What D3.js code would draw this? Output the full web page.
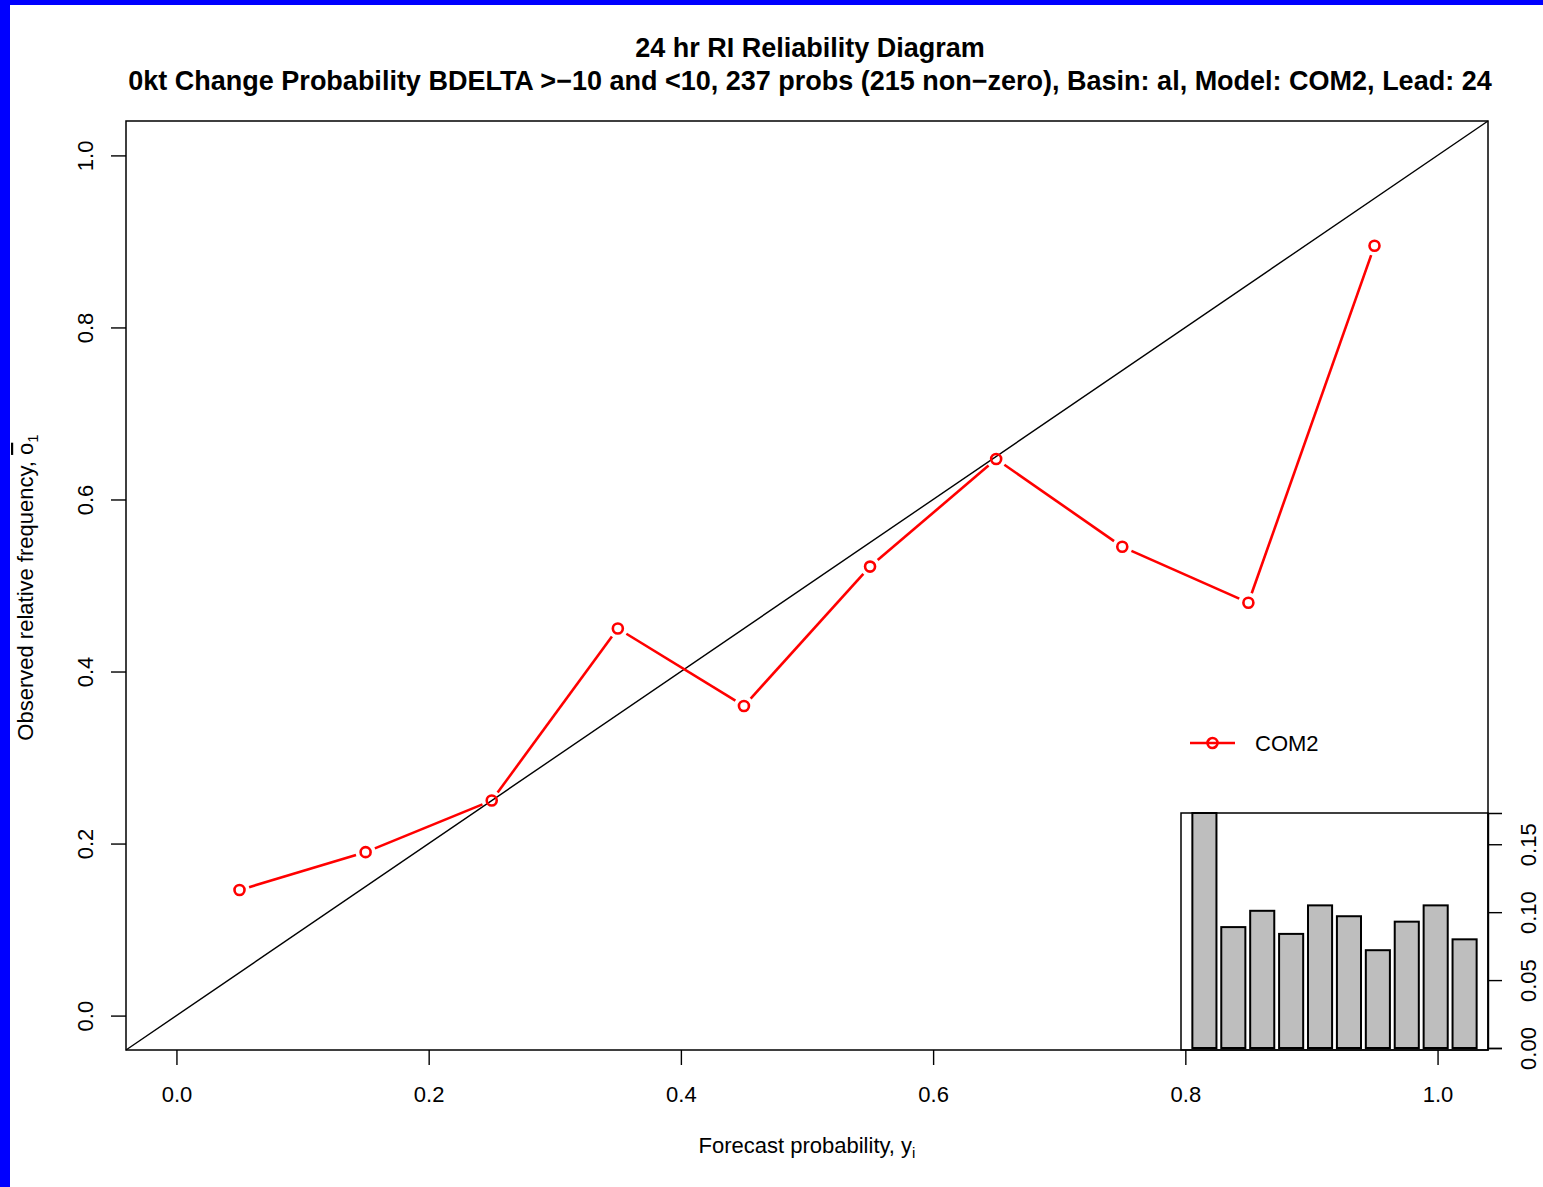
<!DOCTYPE html>
<html>
<head>
<meta charset="utf-8">
<script src="https://cdn.jsdelivr.net/npm/d3@7"></script>
<style>
body { margin: 0; background: #fff; }
text, tspan { font-family: "Liberation Sans", Arial, Helvetica, sans-serif; fill: #000; }
</style>
</head>
<body>
<div class="canvas"></div>
<script>
// reliability data (bin centers, observed frequency per bin)
const binCenters = [0.05, 0.15, 0.25, 0.35, 0.45, 0.55, 0.65, 0.75, 0.85, 0.95]
const observedFreq = [0.146, 0.190, 0.250, 0.450, 0.360, 0.522, 0.647, 0.545, 0.480, 0.895]
// share of forecasts falling in each bin (inset histogram)
const binShare = [0.173, 0.089, 0.101, 0.084, 0.105, 0.097, 0.072, 0.093, 0.105, 0.080]

const xTickVals = [0, 0.2, 0.4, 0.6, 0.8, 1.0]
const yTickVals = [0, 0.2, 0.4, 0.6, 0.8, 1.0]
const histTickVals = [0, 0.05, 0.10, 0.15]

const modelName = 'COM2'
const titleLines = [
    '24 hr RI Reliability Diagram',
    '0kt Change Probability BDELTA >\u221210 and <10, 237 probs (215 non\u2212zero), Basin: al, Model: COM2, Lead: 24'
]

const width = 1543, height = 1187
const [plotL, plotR, plotT, plotB] = [126, 1488, 121, 1050]
const fs = '22px'

const svg = d3.select('.canvas').append('svg').attr('width', width).attr('height', height)

// blue frame at top and left
svg.append('rect').attr('width', width).attr('height', height).attr('fill', '#0000ff')
svg.append('rect').attr('x', 10).attr('y', 5).attr('width', width - 10).attr('height', height - 5).attr('fill', '#fff')

const x = d3.scaleLinear().domain([-0.04, 1.04]).range([plotL, plotR])
const y = d3.scaleLinear().domain([-0.04, 1.04]).range([plotB, plotT])

// titles
svg.selectAll('.title').data(titleLines).enter()
    .append('text')
    .attr('class', 'title')
    .attr('x', (plotL + plotR) / 2 + 3)
    .attr('y', (d, i) => 57 + i * 33)
    .attr('text-anchor', 'middle')
    .style('font-weight', 'bold')
    .style('font-size', '27px')
    .text(d => d)

// diagonal (perfect reliability)
svg.append('line')
    .attr('x1', x(-0.04)).attr('y1', y(-0.04))
    .attr('x2', x(1.04)).attr('y2', y(1.04))
    .attr('stroke', '#000').attr('stroke-width', 1.4)

// axes
const xAxisG = svg.append('g').attr('transform', `translate(0, ${plotB})`)
xAxisG.call(d3.axisBottom(x).tickValues(xTickVals).tickSize(15).tickPadding(21).tickFormat(d3.format('.1f')))
const yAxisG = svg.append('g').attr('transform', `translate(${plotL}, 0)`)
yAxisG.call(d3.axisLeft(y).tickValues(yTickVals).tickSize(15).tickFormat(d3.format('.1f')))

;[xAxisG, yAxisG].forEach(g => {
    g.select('.domain').remove()
    g.selectAll('line').attr('stroke', '#000').attr('stroke-width', 1.4)
    g.selectAll('text').style('font-size', fs).attr('fill', '#000')
        .style('font-family', '"Liberation Sans", Arial, sans-serif')
})
yAxisG.selectAll('text')
    .attr('transform', 'rotate(-90)')
    .attr('x', 0).attr('y', -33).attr('dy', 0)
    .attr('text-anchor', 'middle')

// axis titles
const xLab = svg.append('text')
    .attr('x', (plotL + plotR) / 2).attr('y', 1153)
    .attr('text-anchor', 'middle')
    .style('font-size', fs)
xLab.append('tspan').text('Forecast probability, y')
xLab.append('tspan').attr('dy', 5).attr('fill', '#000').style('font-size', '15px').text('i')

const yLab = svg.append('text')
    .attr('transform', `translate(33, ${(plotT + plotB) / 2 + 2}) rotate(-90)`)
    .attr('text-anchor', 'middle')
    .style('font-size', fs)
yLab.append('tspan').text('Observed relative frequency, ')
yLab.append('tspan').attr('fill', '#000').style('text-decoration', 'overline').text('o')
yLab.append('tspan').attr('dy', 5).attr('fill', '#000').style('font-size', '15px').text('1')

// reliability curve, R type="b" look: segments stop short of the points
const pts = binCenters.map((c, i) => [x(c), y(observedFreq[i])])
const gap = 10
const segs = d3.pairs(pts).map(([a, b]) => {
    const dx = b[0] - a[0], dy = b[1] - a[1]
    const len = Math.hypot(dx, dy)
    const ux = dx / len, uy = dy / len
    return [a[0] + ux * gap, a[1] + uy * gap, b[0] - ux * gap, b[1] - uy * gap]
})
svg.selectAll('.seg').data(segs).enter()
    .append('line')
    .attr('class', 'seg')
    .attr('x1', d => d[0]).attr('y1', d => d[1])
    .attr('x2', d => d[2]).attr('y2', d => d[3])
    .attr('stroke', '#ff0000').attr('stroke-width', 2.6)

svg.selectAll('.pt').data(pts).enter()
    .append('circle')
    .attr('class', 'pt')
    .attr('cx', d => d[0]).attr('cy', d => d[1])
    .attr('r', 5)
    .attr('fill', 'none')
    .attr('stroke', '#ff0000').attr('stroke-width', 2.6)

// legend
const legG = svg.append('g').attr('transform', 'translate(1190, 743)')
legG.append('line').attr('x1', 0).attr('x2', 45).attr('stroke', '#ff0000').attr('stroke-width', 2.6)
legG.append('circle').attr('cx', 22.5).attr('r', 5).attr('fill', 'none').attr('stroke', '#ff0000').attr('stroke-width', 2.6)
legG.append('text').attr('x', 65).attr('y', 8).style('font-size', fs).text(modelName)

// inset histogram
const [insL, insR, insT, insB] = [1181, 1488, 813, 1050]
svg.append('rect')
    .attr('x', insL).attr('y', insT)
    .attr('width', insR - insL).attr('height', insB - insT)
    .attr('fill', '#fff').attr('stroke', '#000').attr('stroke-width', 1.5)

const hx = d3.scaleBand().domain(d3.range(binShare.length)).range([insL, insR])
    .paddingInner(1 / 6).paddingOuter(0.393)
const hy = d3.scaleLinear().domain([0, d3.max(binShare)]).range([1048, insT])

svg.selectAll('.hbar').data(binShare).enter()
    .append('rect')
    .attr('class', 'hbar')
    .attr('x', (d, i) => hx(i))
    .attr('y', d => hy(d))
    .attr('width', hx.bandwidth())
    .attr('height', d => hy(0) - hy(d))
    .attr('fill', '#bebebe')
    .attr('stroke', '#000').attr('stroke-width', 2)

const hAxisG = svg.append('g').attr('transform', `translate(${insR}, 0)`)
hAxisG.call(d3.axisRight(hy).tickValues(histTickVals).tickSize(14).tickFormat(d3.format('.2f')))
hAxisG.select('.domain').attr('stroke', '#000').attr('stroke-width', 1.4)
hAxisG.selectAll('line').attr('stroke', '#000').attr('stroke-width', 1.4)
hAxisG.selectAll('text')
    .style('font-size', fs).attr('fill', '#000')
    .style('font-family', '"Liberation Sans", Arial, sans-serif')
    .attr('transform', 'rotate(-90)')
    .attr('x', 0).attr('y', 48).attr('dy', 0)
    .attr('text-anchor', 'middle')

// plot box on top
svg.append('rect')
    .attr('x', plotL).attr('y', plotT)
    .attr('width', plotR - plotL).attr('height', plotB - plotT)
    .attr('fill', 'none').attr('stroke', '#000').attr('stroke-width', 1.5)
</script>
</body>
</html>
